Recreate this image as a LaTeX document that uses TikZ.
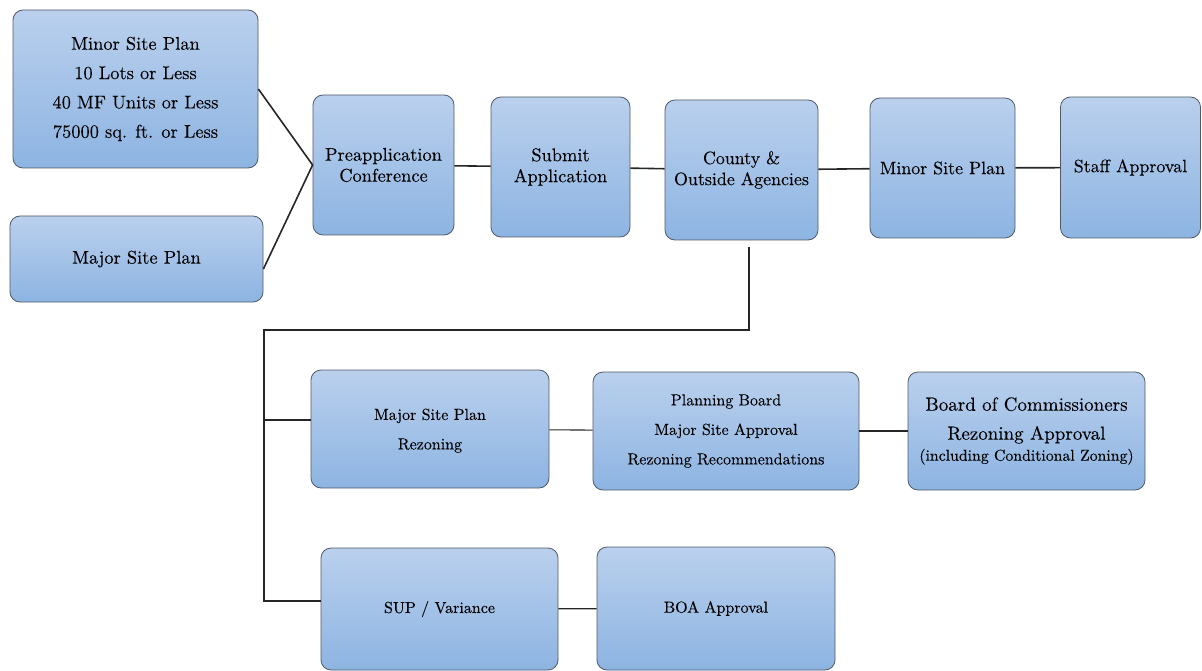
\documentclass[tikz,border=0pt]{standalone}
\usepackage{fontspec}
\IfFontExistsTF{lmroman10-regular.otf}{\setmainfont{lmroman10-regular.otf}[FakeBold=0.12]}{}
\definecolor{boxtop}{RGB}{186,208,237}
\definecolor{boxbot}{RGB}{141,180,226}
\definecolor{boxline}{RGB}{80,90,105}
\begin{document}
\begin{tikzpicture}[x=1pt,y=-1pt,
  box/.style={rectangle, rounded corners=10pt, draw=boxline, line width=0.8pt,
    top color=boxtop, bottom color=boxbot, align=center, inner sep=0pt, text=black},
  bigtxt/.style={font=\fontsize{18.4}{21}\selectfont},
  midtxt/.style={font=\fontsize{17.9}{21}\selectfont},
  lowtxt/.style={font=\fontsize{16}{29.5}\selectfont},
  link/.style={line width=1.6pt, black!85},
  thinlink/.style={line width=1.1pt, black!85}]
\useasboundingbox (0,0) rectangle (1202,671);

% top row
\node[box, font=\fontsize{18.4}{29.3}\selectfont, minimum width=245pt, minimum height=158pt] (minor1) at (135.5,89)
  {Minor Site Plan\\10 Lots or Less\\40 MF Units or Less\\75000 sq. ft. or Less};
\node[box, bigtxt, minimum width=253pt, minimum height=86pt] (major1) at (136.5,259) {Major Site Plan};
\node[box, bigtxt, minimum width=141pt, minimum height=140pt] (preapp) at (383.5,165) {Preapplication\\Conference};
\node[box, bigtxt, minimum width=139pt, minimum height=140pt] (submit) at (560.5,167) {Submit\\Application};
\node[box, midtxt, minimum width=153pt, minimum height=140pt] (county) at (741.5,170) {County \&\\Outside Agencies};
\node[box, midtxt, minimum width=145pt, minimum height=140pt] (minor2) at (942.5,168) {Minor Site Plan};
\node[box, midtxt, minimum width=140pt, minimum height=141pt] (staff) at (1130.5,167.5) {Staff Approval};

% lower rows
\node[box, lowtxt, minimum width=238pt, minimum height=118pt, text depth=0pt] (majrez) at (430,429) {Major Site Plan\\Rezoning};
\node[box, lowtxt, minimum width=266pt, minimum height=118pt] (planning) at (726,431)
  {Planning Board\\Major Site Approval\\Rezoning Recommendations};
\node[box, font=\fontsize{19}{29}\selectfont, minimum width=237pt, minimum height=118pt] (board) at (1026.5,431)
  {\rule{0pt}{8pt}Board of Commissioners\\Rezoning Approval\\[-8pt]{\fontsize{15.8}{19}\selectfont (including Conditional Zoning)}};
\node[box, lowtxt, minimum width=237pt, minimum height=122pt] (sup) at (439.5,609) {SUP / Variance};
\node[box, lowtxt, minimum width=238pt, minimum height=123pt] (boa) at (716,608.5) {BOA Approval};

% connectors top
\draw[link] (minor1.east) -- (preapp.west);
\draw[link] ([yshift=-10pt]major1.east) -- (preapp.west);
\draw[link] (preapp) -- (submit);
\draw[link] (submit) -- (county);
\draw[link] (county) -- (minor2);
\draw[link] (minor2) -- (staff);

% bus
\coordinate (drop) at (749,330);
\coordinate (bustop) at (264,330);
\coordinate (busmid) at (264,420);
\coordinate (busbot) at (264,601);
\draw[thinlink] ([xshift=7.5pt,yshift=-7pt]county.south) -- (drop) -- (bustop) -- (busbot) -- (busbot -| sup.west);
\draw[thinlink] (busmid) -- (busmid -| majrez.west);
\draw[thinlink] (majrez) -- (planning);
\draw[thinlink] (planning) -- (board);
\draw[thinlink] (sup) -- (boa);
\end{tikzpicture}
\end{document}
